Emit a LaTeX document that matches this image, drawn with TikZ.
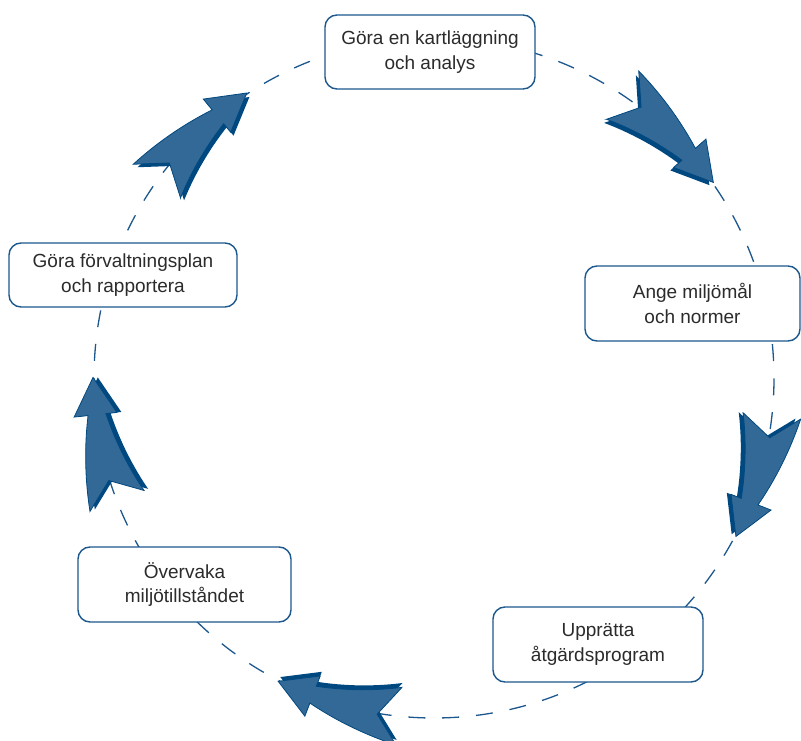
\documentclass[tikz,border=0pt]{standalone}
\usepackage{fontspec}
\setmainfont{Liberation Sans}
\definecolor{arrowfill}{RGB}{51,105,150}
\definecolor{arrowdark}{RGB}{0,72,128}
\definecolor{lineblue}{RGB}{28,88,142}
\definecolor{txtgray}{RGB}{45,42,42}
\newcommand{\flowarrow}[1]{%
  \fill[arrowdark, scale=0.986] (#1:369)
    -- plot[domain=0:15,samples=14] ({#1-\x}:{369-1.4*\x})
    -- ({#1-15}:362) -- ({#1-21.3}:341) -- ({#1-15}:319) -- ({#1-15}:330)
    -- plot[domain=15:0,samples=14] ({#1-\x}:{311+1.2667*\x})
    -- (#1:311) -- ({#1-3.7}:341) -- cycle;
  \filldraw[fill=arrowfill, draw=arrowdark, line width=0.8pt, line join=miter] (#1:369)
    -- plot[domain=0:15,samples=14] ({#1-\x}:{369-1.4*\x})
    -- ({#1-15}:362) -- ({#1-21.3}:341) -- ({#1-15}:319) -- ({#1-15}:330)
    -- plot[domain=15:0,samples=14] ({#1-\x}:{311+1.2667*\x})
    -- (#1:311) -- ({#1-3.7}:341) -- cycle;
}
\tikzset{
  stagebox/.style={draw=lineblue, line width=1.4pt, rounded corners=12pt,
    fill=white, align=center, text=txtgray, inner sep=0pt,
    font=\fontsize{19}{24.5}\selectfont},
  ring/.style={draw=lineblue, line width=1.3pt, dash pattern=on 17pt off 16.909pt, dash phase=17pt}
}
\begin{document}
\begin{tikzpicture}[x=1pt,y=1pt]
\useasboundingbox (0,0) rectangle (801,740);
\clip (0,0) rectangle (801,740);
\coordinate (C) at (434,362);
\draw[ring] (C) circle[radius=340pt];
\begin{scope}[shift={(C)}]
  \flowarrow{56.3}
  \flowarrow{-6.4}
  \flowarrow{-95.9}
  \flowarrow{201.2}
  \flowarrow{144.6}
\end{scope}
\node[stagebox, minimum width=210pt, minimum height=74pt] (analys) at (430,688) {Göra en kartläggning\\och analys};
\node[stagebox, minimum width=215pt, minimum height=75pt] (mal) at (692.5,436.5) {Ange miljömål\\och normer};
\node[stagebox, minimum width=210pt, minimum height=75pt] (program) at (598,95.5) {Upprätta\\åtgärdsprogram};
\node[stagebox, minimum width=213pt, minimum height=75pt] (overvaka) at (184.5,155.5) {Övervaka\\miljötillståndet};
\node[stagebox, minimum width=228pt, minimum height=64pt] (plan) at (123,465) {Göra förvaltningsplan\\och rapportera};
\end{tikzpicture}
\end{document}
